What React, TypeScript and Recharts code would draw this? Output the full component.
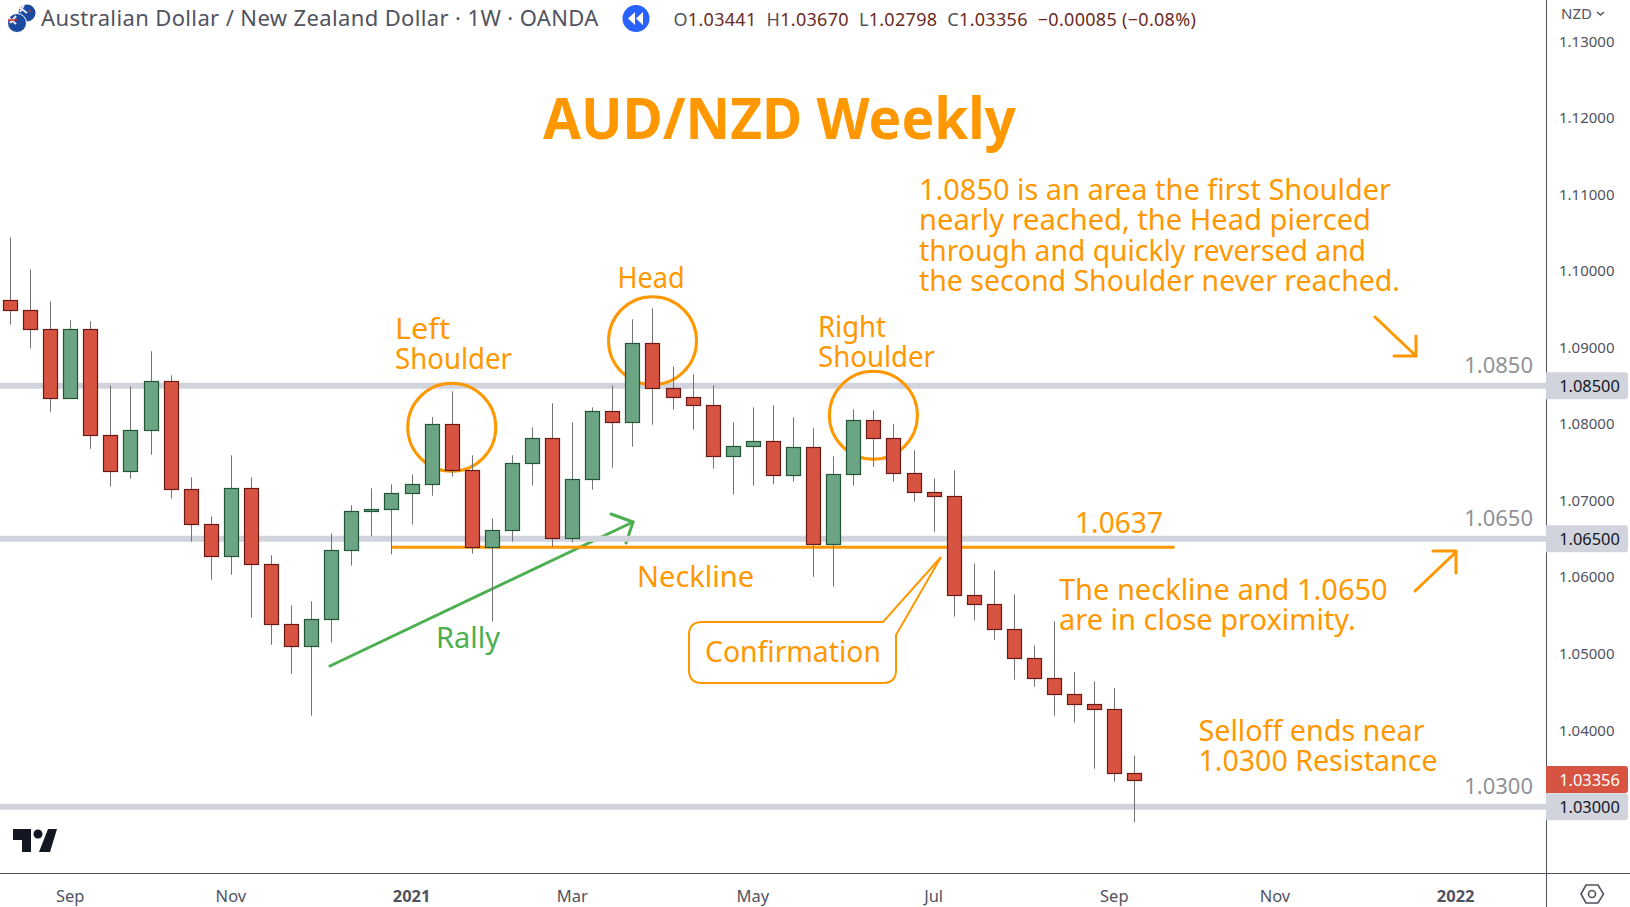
import React from 'react';
import { ComposedChart, Bar, XAxis, YAxis, ReferenceLine, ReferenceDot } from 'recharts';

const WIDTH = 1630;
const HEIGHT = 907;
const AXIS_X = 1546;
const FONT = "'Noto Sans', sans-serif";
const ORANGE = '#ff9800';
const GREEN_LINE = '#4caf50';
const LEVEL_GREY = '#d1d4dc';
const AXIS_GREY = '#50535e';

// weekly bars, empty weeks at the end leave the room on the right side of the chart
const weeks = [
  '2020-08-17', '2020-08-24', '2020-08-31', '2020-09-07', '2020-09-14', '2020-09-21', '2020-09-28',
  '2020-10-05', '2020-10-12', '2020-10-19', '2020-10-26', '2020-11-02', '2020-11-09', '2020-11-16',
  '2020-11-23', '2020-11-30', '2020-12-07', '2020-12-14', '2020-12-21', '2020-12-28', '2021-01-04',
  '2021-01-11', '2021-01-18', '2021-01-25', '2021-02-01', '2021-02-08', '2021-02-15', '2021-02-22',
  '2021-03-01', '2021-03-08', '2021-03-15', '2021-03-22', '2021-03-29', '2021-04-05', '2021-04-12',
  '2021-04-19', '2021-04-26', '2021-05-03', '2021-05-10', '2021-05-17', '2021-05-24', '2021-05-31',
  '2021-06-07', '2021-06-14', '2021-06-21', '2021-06-28', '2021-07-05', '2021-07-12', '2021-07-19',
  '2021-07-26', '2021-08-02', '2021-08-09', '2021-08-16', '2021-08-23', '2021-08-30', '2021-09-06',
  '2021-09-13', '2021-09-20', '2021-09-27', '2021-10-04', '2021-10-11', '2021-10-18', '2021-10-25',
  '2021-11-01', '2021-11-08', '2021-11-15', '2021-11-22', '2021-11-29', '2021-12-06', '2021-12-13',
  '2021-12-20', '2021-12-27', '2022-01-03', '2022-01-10', '2022-01-17', '2022-01-24', '2022-01-31',
];

const opens = [
  1.09616, 1.09485, 1.09237, 1.08336, 1.09237, 1.07853, 1.07382, 1.07918, 1.08558, 1.07147,
  1.0669, 1.06272, 1.0716, 1.06167, 1.05384, 1.05096, 1.05449, 1.0635, 1.0686, 1.06886,
  1.07095, 1.07212, 1.07996, 1.07395, 1.0639, 1.06612, 1.07487, 1.07813, 1.06507, 1.07278,
  1.08166, 1.08022, 1.09054, 1.08467, 1.08349, 1.08245, 1.07578, 1.07709, 1.07774, 1.0733,
  1.07696, 1.06429, 1.07343, 1.08049, 1.07813, 1.07356, 1.07108, 1.07056, 1.05763, 1.05645,
  1.05318, 1.0494, 1.04678, 1.04469, 1.04339, 1.04273, 1.03441,
];
const highs = [
  1.10439, 1.10021, 1.09603, 1.09355, 1.09342, 1.08506, 1.08493, 1.0895, 1.08636, 1.07304,
  1.06794, 1.07591, 1.07304, 1.06285, 1.05632, 1.05684, 1.06572, 1.06938, 1.0716, 1.07212,
  1.07343, 1.08092, 1.08427, 1.07591, 1.06768, 1.07591, 1.07957, 1.08271, 1.08022, 1.08218,
  1.08506, 1.09368, 1.09512, 1.08754, 1.0865, 1.08506, 1.08022, 1.08218, 1.08245, 1.08088,
  1.07944, 1.07578, 1.08192, 1.08179, 1.07996, 1.07657, 1.07291, 1.07395, 1.0618, 1.06089,
  1.05775, 1.05109, 1.05423, 1.04757, 1.04639, 1.04548, 1.0367,
];
const lows = [
  1.09298, 1.08985, 1.08162, 1.08336, 1.07678, 1.07182, 1.07286, 1.076, 1.07025, 1.06463,
  1.05967, 1.06032, 1.05471, 1.05118, 1.04739, 1.0419, 1.05144, 1.0615, 1.06533, 1.06298,
  1.06686, 1.07064, 1.07313, 1.06307, 1.05418, 1.06464, 1.07195, 1.06398, 1.06451, 1.07143,
  1.0743, 1.07705, 1.07992, 1.08188, 1.07927, 1.07417, 1.07078, 1.07195, 1.07212, 1.07247,
  1.06006, 1.05876, 1.07195, 1.07439, 1.07247, 1.06986, 1.06594, 1.05484, 1.05432, 1.05183,
  1.04661, 1.04569, 1.0419, 1.04099, 1.03498, 1.03328, 1.02798,
];
const closes = [
  1.09485, 1.09237, 1.08336, 1.09237, 1.07853, 1.07382, 1.07918, 1.08558, 1.07147, 1.0669,
  1.06272, 1.0716, 1.06167, 1.05384, 1.05096, 1.05449, 1.0635, 1.0686, 1.06886, 1.07095,
  1.07212, 1.07996, 1.07395, 1.0639, 1.06612, 1.07487, 1.07813, 1.06507, 1.07278, 1.08166,
  1.08022, 1.09054, 1.08467, 1.08349, 1.08245, 1.07578, 1.07709, 1.07774, 1.0733, 1.07696,
  1.06429, 1.07343, 1.08049, 1.07813, 1.07356, 1.07108, 1.07056, 1.05763, 1.05645, 1.05318,
  1.0494, 1.04678, 1.04469, 1.04339, 1.04273, 1.03437, 1.03356,
];

// 1.03 has no tick of its own, the level badge covers it
const priceTicks = [1.04, 1.05, 1.06, 1.07, 1.08, 1.09, 1.1, 1.11, 1.12, 1.13];
const priceDomain = [1.021352, 1.135395];
const levels = [1.085, 1.065, 1.03];
const lastClose = 1.03356;
const necklinePrice = 1.0639;

const timeTicks: Record<string, string> = {
  '2020-09-07': 'Sep',
  '2020-11-02': 'Nov',
  '2021-01-04': '2021',
  '2021-03-01': 'Mar',
  '2021-05-03': 'May',
  '2021-07-05': 'Jul',
  '2021-09-06': 'Sep',
  '2021-11-01': 'Nov',
  '2022-01-03': '2022',
};

const shoulders = [
  { week: '2021-01-18', price: 1.07958 },
  { week: '2021-03-29', price: 1.09089 },
  { week: '2021-06-14', price: 1.08114 },
];

const rows = weeks.map((week, i) => ({
  week,
  open: opens[i],
  high: highs[i],
  low: lows[i],
  close: closes[i],
}));

const Candle = (props: any) => {
  const { x, y, width, height, payload } = props;
  if (payload.high == null) return null;
  const perUnit = height / (payload.high - payload.low);
  const top = y + (payload.high - Math.max(payload.open, payload.close)) * perUnit;
  const bottom = y + (payload.high - Math.min(payload.open, payload.close)) * perUnit;
  const up = payload.close >= payload.open;
  const cx = Math.round(x + width / 2) + 0.5;
  return (
    <g>
      <line x1={cx} x2={cx} y1={y} y2={y + height} stroke="#737375" strokeWidth={1} />
      <rect
        x={cx - width / 2}
        y={Math.round(top) + 0.5}
        width={width}
        height={Math.max(Math.round(bottom) - Math.round(top), 1)}
        fill={up ? '#6ba583' : '#d75442'}
        stroke={up ? '#225437' : '#6b1914'}
        strokeWidth={1.2}
      />
    </g>
  );
};

const Badge = ({ viewBox, value, fill, color, note }: any) => {
  const { y } = viewBox;
  return (
    <g>
      {note && (
        <text x={AXIS_X - 13} y={y - 13} textAnchor="end" fontFamily={FONT} fontSize={22} fill="#8f9296">
          {note}
        </text>
      )}
      <path
        d={`M${AXIS_X} ${y - 13.5} H${WIDTH - 5} a3 3 0 0 1 3 3 V${y + 10.5} a3 3 0 0 1 -3 3 H${AXIS_X} Z`}
        fill={fill}
      />
      <text x={1589.5} y={y + 6} textAnchor="middle" fontFamily={FONT} fontSize={16.4} fill={color}>
        {value}
      </text>
    </g>
  );
};

// one text per line, widths pin a line to its measured length where the font runs wider
const Note = ({ x, y, lines, size = 29, fill = ORANGE, gap = 30, widths }: any) => (
  <g>
    {lines.map((line: string, i: number) => (
      <text
        key={line}
        x={x}
        y={y + i * gap}
        fontFamily={FONT}
        fontSize={size}
        fill={fill}
        textLength={widths ? widths[i] : undefined}
        lengthAdjust={widths ? 'spacingAndGlyphs' : undefined}
      >
        {line}
      </text>
    ))}
  </g>
);

const Arrow = ({ points, color }: any) => (
  <polyline points={points} fill="none" stroke={color} strokeWidth={3} strokeLinecap="round" strokeLinejoin="round" />
);

const layer: React.CSSProperties = { position: 'absolute', left: 0, top: 0 };

const App = () => (
  <div style={{ position: 'fixed', left: 0, top: 0, width: WIDTH, height: HEIGHT, background: '#fff', overflow: 'hidden' }}>
    {/* the rally arrow and the scale frame sit under the levels and the candles */}
    <svg width={WIDTH} height={HEIGHT} style={layer}>
      <line x1={330} y1={666} x2={633} y2={522} stroke={GREEN_LINE} strokeWidth={3} strokeLinecap="round" />
      <Arrow color={GREEN_LINE} points="611,514 633,522 626,543" />
      <line x1={AXIS_X + 0.5} x2={AXIS_X + 0.5} y1={0} y2={HEIGHT} stroke={AXIS_GREY} />
      <line x1={0} x2={WIDTH} y1={873.5} y2={873.5} stroke={AXIS_GREY} />
    </svg>

    {/* scales, circles and level lines */}
    <div style={layer}>
      <ComposedChart width={WIDTH} height={HEIGHT} data={rows} margin={{ top: 0, right: 0, bottom: 0, left: 0 }}>
        <XAxis
          dataKey="week"
          scale="band"
          height={34}
          ticks={Object.keys(timeTicks)}
          interval={0}
          tickLine={false}
          axisLine={false}
          tick={(p: any) => (
            <text
              x={p.x}
              y={p.y + 21}
              textAnchor="middle"
              fontFamily={FONT}
              fontSize={16.5}
              fontWeight={timeTicks[p.payload.value].startsWith('20') ? 700 : 400}
              fill="#50535e"
            >
              {timeTicks[p.payload.value]}
            </text>
          )}
        />
        <YAxis
          orientation="right"
          width={WIDTH - AXIS_X}
          domain={priceDomain}
          ticks={priceTicks}
          allowDataOverflow
          tickLine={false}
          axisLine={false}
          tickFormatter={(v: number) => v.toFixed(5)}
          tick={{ fontFamily: FONT, fontSize: 15, fill: '#50535e', dx: 5 }}
        />
        {shoulders.map((s) => (
          <ReferenceDot key={s.week} x={s.week} y={s.price} r={44} fill="none" stroke={ORANGE} strokeWidth={3} />
        ))}
        <ReferenceLine
          segment={[
            { x: '2020-12-28', y: necklinePrice },
            { x: '2021-09-27', y: necklinePrice },
          ]}
          stroke={ORANGE}
          strokeWidth={3}
        />
        {levels.map((p) => (
          <ReferenceLine key={p} y={p} stroke={LEVEL_GREY} strokeWidth={6} />
        ))}
      </ComposedChart>
    </div>

    {/* candles and price badges, same scales, on top of everything above */}
    <div style={layer}>
      <ComposedChart width={WIDTH} height={HEIGHT} data={rows} margin={{ top: 0, right: WIDTH - AXIS_X, bottom: 34, left: 0 }}>
        <XAxis dataKey="week" hide />
        <YAxis hide domain={priceDomain} allowDataOverflow />
        <Bar
          dataKey={(d: any) => (d.high == null ? null : [d.low, d.high])}
          barSize={14}
          shape={Candle}
          isAnimationActive={false}
        />
        {levels.map((p) => (
          <ReferenceLine
            key={`badge-${p}`}
            y={p}
            stroke="none"
            label={(props: any) => (
              <Badge {...props} value={p.toFixed(5)} note={p.toFixed(4)} fill={LEVEL_GREY} color="#131722" />
            )}
          />
        ))}
        <ReferenceLine
          y={lastClose}
          stroke="none"
          label={(props: any) => <Badge {...props} value={lastClose.toFixed(5)} fill="#d75442" color="#fff" />}
        />
      </ComposedChart>
    </div>

    <svg width={WIDTH} height={HEIGHT} style={{ ...layer, pointerEvents: 'none' }}>
      {/* header */}
      <circle cx={27} cy={13} r={8.5} fill="#1c4a9e" />
      <path d="M19 7 L27 13 M24 5 L20 12" stroke="#e8e8ee" strokeWidth={2} />
      <circle cx={30} cy={11} r={1} fill="#d8352a" />
      <circle cx={17} cy={23} r={9.5} fill="#1c4a9e" stroke="#fff" strokeWidth={1} />
      <path d="M9 18 L16 24 M16 16 L10 23" stroke="#e8e8ee" strokeWidth={2} />
      <path d="M8 20 H17" stroke="#d8352a" strokeWidth={1.5} />
      <text x={41} y={26} fontFamily={FONT} fontSize={22} letterSpacing={0.37} fill="#50535e">
        Australian Dollar / New Zealand Dollar · 1W · OANDA
      </text>
      <circle cx={636} cy={18.5} r={13.5} fill="#2962ff" />
      <path d="M635 12 L628 18.5 L635 25 Z M643 12 L636 18.5 L643 25 Z" fill="#fff" />
      <text x={673.5} y={26} fontFamily={FONT} fontSize={18} letterSpacing={0.3} fill="#6b2a24">
        <tspan fill="#50535e">O</tspan>1.03441
        <tspan dx={10} fill="#50535e">H</tspan>1.03670
        <tspan dx={10} fill="#50535e">L</tspan>1.02798
        <tspan dx={10} fill="#50535e">C</tspan>1.03356
        <tspan dx={10}>−0.00085 (−0.08%)</tspan>
      </text>
      <text x={1561} y={19} fontFamily={FONT} fontSize={15} fill="#50535e">NZD</text>
      <path d="M1597 12 l3.5 3 l3.5 -3" fill="none" stroke="#50535e" strokeWidth={1.5} />

      {/* tradingview mark and settings icon */}
      <path d="M13 829 H31 V852 H22 V840 H13 Z M48 829 H57 L50 852 H39 Z" fill="#131722" />
      <circle cx={38} cy={834} r={4.5} fill="#131722" />
      <path d="M1586 885 H1598 L1603.5 894 L1598 903 H1586 L1581 894 Z" fill="none" stroke="#50535e" strokeWidth={1.6} />
      <circle cx={1592} cy={894} r={3.5} fill="none" stroke="#50535e" strokeWidth={1.6} />

      {/* annotations */}
      <text
        x={543}
        y={139}
        fontFamily={FONT}
        fontSize={58}
        fontWeight={700}
        fill={ORANGE}
        textLength={473}
        lengthAdjust="spacingAndGlyphs"
      >
        AUD/NZD Weekly
      </text>
      <Note
        x={919}
        y={200}
        gap={30.3}
        widths={[472, 452, 447, 481]}
        lines={[
          '1.0850 is an area the first Shoulder',
          'nearly reached, the Head pierced',
          'through and quickly reversed and',
          'the second Shoulder never reached.',
        ]}
      />
      <Note x={395} y={339} lines={['Left', 'Shoulder']} widths={[55, 117]} />
      <Note x={617.5} y={288} lines={['Head']} widths={[67]} />
      <Note x={818} y={337} lines={['Right', 'Shoulder']} widths={[68, 117]} />
      <Note x={1075} y={533} lines={['1.0637']} widths={[88]} />
      <Note x={637} y={587} lines={['Neckline']} />
      <Note x={436} y={648} lines={['Rally']} fill={GREEN_LINE} />
      <Note x={1059} y={600} lines={['The neckline and 1.0650', 'are in close proximity.']} />
      <Note x={1198.5} y={741} lines={['Selloff ends near', '1.0300 Resistance']} widths={[226, 239]} />
      <Arrow color={ORANGE} points="1375,317 1416,356" />
      <Arrow color={ORANGE} points="1416,336 1416,356 1394,356" />
      <Arrow color={ORANGE} points="1415,591 1456,552" />
      <Arrow color={ORANGE} points="1433,551 1456,551 1456,573" />
      <path
        d="M702 622 H883 L941 557 L896 635 V670 Q896 683 883 683 H702 Q689 683 689 670 V635 Q689 622 702 622 Z"
        fill="#fff"
        stroke={ORANGE}
        strokeWidth={2}
      />
      <Note x={705} y={662} lines={['Confirmation']} widths={[176]} />
    </svg>
  </div>
);

export default App;
